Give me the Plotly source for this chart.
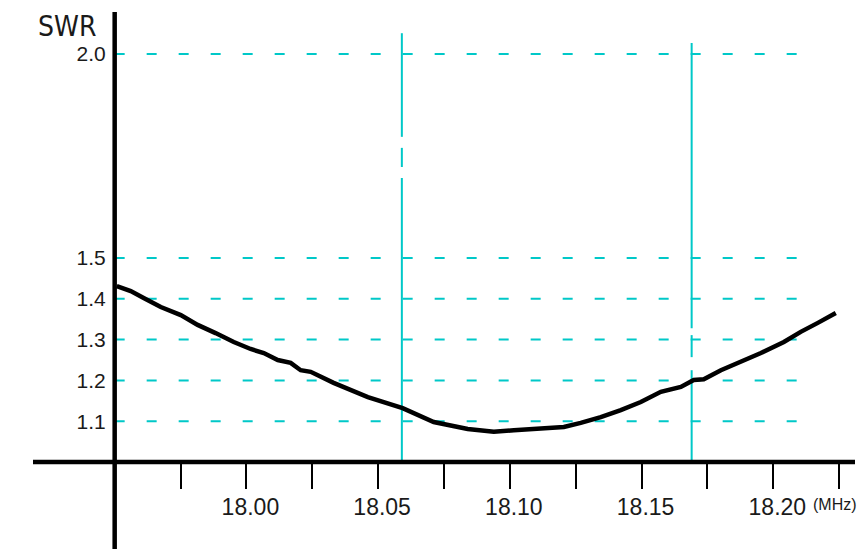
import plotly.graph_objects as go

# ---- data ----
freq_mhz = [17.9508, 17.9561, 17.9610, 17.9675, 17.9751, 17.9815, 17.9883, 17.9952,
            18.0016, 18.0066, 18.0119, 18.0168, 18.0206, 18.0244, 18.0331, 18.0461,
            18.0593, 18.0711, 18.0840, 18.0939, 18.1015, 18.1117, 18.1205, 18.1269,
            18.1345, 18.1421, 18.1497, 18.1573, 18.1649, 18.1698, 18.1736, 18.1801,
            18.1877, 18.1953, 18.2040, 18.2104, 18.2169, 18.2237]
swr = [1.431, 1.419, 1.402, 1.380, 1.360, 1.336, 1.316, 1.294,
       1.277, 1.267, 1.250, 1.243, 1.225, 1.221, 1.194, 1.159,
       1.132, 1.098, 1.081, 1.074, 1.078, 1.081, 1.086, 1.096,
       1.110, 1.127, 1.147, 1.172, 1.184, 1.201, 1.203, 1.225,
       1.245, 1.267, 1.294, 1.319, 1.341, 1.365]

x_tick_vals = [17.975, 18.000, 18.025, 18.050, 18.075, 18.100, 18.125, 18.150, 18.175, 18.200, 18.225]
x_tick_text = ["", "18.00", "", "18.05", "", "18.10", "", "18.15", "", "18.20", ""]
y_tick_vals = [1.1, 1.2, 1.3, 1.4, 1.5, 2.0]
y_tick_text = ["1.1", "1.2", "1.3", "1.4", "1.5", "2.0"]

# band-edge marker lines: (frequency, list of drawn segments in SWR units)
marker_freqs = [18.059, 18.169]
marker_segments = [
    [(2.051, 1.797), (1.770, 1.723), (1.696, 1.0)],
    [(2.027, 1.328), (1.311, 1.257), (1.225, 1.0)],
]

x_origin = 17.95
grid_end = 18.217
y_origin = 1.0

X_RANGE = [17.919, 18.231]
Y_RANGE = [1.0, 2.103]

CYAN = "#00C8C8"
FONT = "Liberation Sans, Arial, sans-serif"
NARROW = "DejaVu Sans Condensed, Liberation Sans Narrow, Liberation Sans, sans-serif"

fig = go.Figure()
fig.add_trace(go.Scatter(x=freq_mhz, y=swr, mode="lines",
                         line=dict(color="black", width=4.5), hoverinfo="skip",
                         showlegend=False))

shapes = []
# horizontal dashed grid lines
for yv in y_tick_vals:
    shapes.append(dict(type="line", xref="x", yref="y", x0=x_origin, x1=grid_end,
                       y0=yv, y1=yv, line=dict(color=CYAN, width=2, dash="10px,22px"),
                       layer="below"))
# vertical marker lines
for fx, segs in zip(marker_freqs, marker_segments):
    for (ya, yb) in segs:
        shapes.append(dict(type="line", xref="x", yref="y", x0=fx, x1=fx, y0=ya, y1=yb,
                           line=dict(color=CYAN, width=2), layer="below"))

# axis lines (paper coordinates derived from data origin)
px_origin = (x_origin - X_RANGE[0]) / (X_RANGE[1] - X_RANGE[0])
shapes.append(dict(type="line", xref="paper", yref="paper", x0=px_origin, x1=px_origin,
                   y0=-0.23, y1=1.0, line=dict(color="black", width=4.5)))
shapes.append(dict(type="line", xref="paper", yref="paper", x0=0, x1=1,
                   y0=0, y1=0, line=dict(color="black", width=4.5)))

fig.update_layout(
    width=865, height=549,
    # page body adds an 8px offset, margins compensate for it
    margin=dict(l=25, r=18, t=4, b=95, autoexpand=False),
    plot_bgcolor="white", paper_bgcolor="white",
    showlegend=False,
    shapes=shapes,
    xaxis=dict(range=X_RANGE, showgrid=False, zeroline=False, showline=False,
               automargin=False,
               tickmode="array", tickvals=x_tick_vals, ticktext=x_tick_text,
               ticks="outside", ticklen=26, tickwidth=1.5, tickcolor="black",
               tickfont=dict(family=FONT, size=23, color="#1a1a1a"),
               ticklabelstandoff=-2, ticklabelshift=4),
    yaxis=dict(range=Y_RANGE, showgrid=False, zeroline=False, showline=False,
               automargin=False, anchor="free", position=px_origin,
               tickmode="array", tickvals=y_tick_vals, ticktext=y_tick_text,
               ticks="", tickfont=dict(family=FONT, size=21, color="#1a1a1a"),
               ticklabelstandoff=9),
    annotations=[
        dict(text="SWR", xref="paper", yref="paper", x=px_origin, y=1.0,
             xanchor="right", yanchor="middle", xshift=-17, yshift=-14, showarrow=False,
             font=dict(family=NARROW, size=28, color="#1a1a1a")),
        dict(text="(MHz)", xref="paper", yref="paper", x=1.0, y=0,
             xanchor="right", yanchor="middle", xshift=4, yshift=-42, showarrow=False,
             font=dict(family=FONT, size=16, color="#1a1a1a")),
    ],
)

fig.write_html("out.html")
